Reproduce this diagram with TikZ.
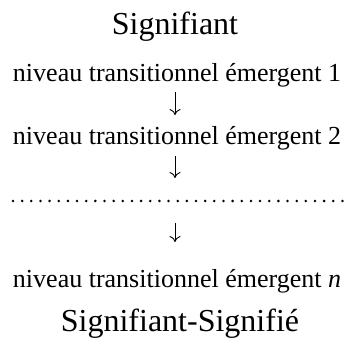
\documentclass[tikz,border=0pt]{standalone}
\usepackage{fontspec}
\setmainfont{Liberation Serif}
\usetikzlibrary{arrows.meta}
\begin{document}
\begin{tikzpicture}[x=1pt,y=1pt,
  big/.style={anchor=base,inner sep=0pt,font=\fontsize{32}{36}\selectfont},
  lvl/.style={anchor=base,inner sep=0pt,font=\fontsize{26}{30}\selectfont},
  arr/.style={line width=0.9pt,-{To[length=6pt,width=11pt,line width=0.9pt]}},
  dots/.style={line width=2.8pt,line cap=round,dash pattern=on 0pt off 9.15pt}]
\useasboundingbox (0,0) rectangle (350,347);
\node[big] (top) at (175,347-35) {Signifiant};
\node[lvl] (l1) at (177,347-82) {niveau transitionnel émergent 1};
\coordinate (a1s) at (175,347-92);
\coordinate (a1e) at (175,347-115);
\draw[arr] (a1s) -- (a1e);
\node[lvl] (l2) at (177,347-145) {niveau transitionnel émergent 2};
\coordinate (a2s) at (175,347-156);
\coordinate (a2e) at (175,347-178);
\draw[arr] (a2s) -- (a2e);
\coordinate (d1) at (13,347-201);
\coordinate (d2) at (343,347-201);
\draw[dots] (d1) -- (d2);
\coordinate (a3s) at (175,347-223);
\coordinate (a3e) at (175,347-242);
\draw[arr] (a3s) -- (a3e);
\node[lvl] (ln) at (177,347-288) {niveau transitionnel émergent \textit{n}};
\node[big] (bot) at (180,347-332) {Signifiant-Signifié};
\end{tikzpicture}
\end{document}
